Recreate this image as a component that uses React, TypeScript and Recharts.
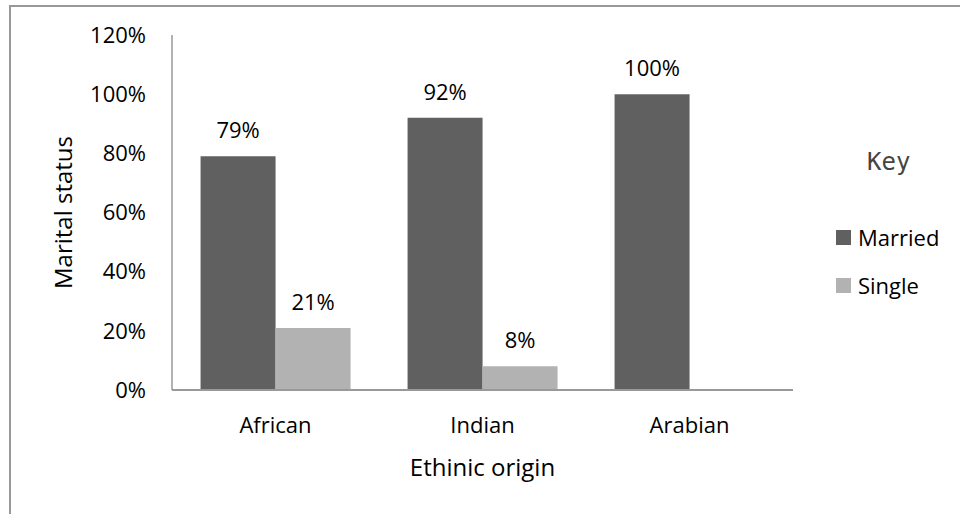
import React from "react";
import {
  BarChart,
  Bar,
  XAxis,
  YAxis,
  Legend,
  LabelList,
  Label,
} from "recharts";

const origins = ["African", "Indian", "Arabian"];
const married = [79, 92, 100];
const single = [21, 8, 0];
const yTicks = [0, 20, 40, 60, 80, 100, 120];

const data = origins.map((origin, i) => ({
  origin,
  Married: married[i],
  Single: single[i],
}));

const FONT = "'Open Sans', 'Noto Sans', sans-serif";
const pct = (v: any) => (v ? `${v}%` : "");

function KeyLegend(props: any) {
  const payload = props.payload || [];
  return (
    <div style={{ fontFamily: FONT }}>
      <div
        style={{
          marginLeft: 31,
          height: 30,
          lineHeight: "30px",
          fontFamily: "'DejaVu Sans Mono', monospace",
          fontSize: 24,
          color: "#444",
        }}
      >
        Key
      </div>
      <div style={{ marginTop: 45 }}>
        {payload.map((entry: any, i: number) => (
          <div
            key={entry.value}
            style={{
              display: "flex",
              alignItems: "center",
              height: 30,
              marginTop: i ? 18 : 0,
              fontSize: 22,
              color: "#000",
            }}
          >
            <span
              style={{
                width: 15,
                height: 15,
                background: entry.color,
                marginRight: 7,
                display: "inline-block",
              }}
            />
            {entry.value}
          </div>
        ))}
      </div>
    </div>
  );
}

export default function App() {
  return (
    <div
      style={{
        position: "absolute",
        left: 0,
        top: 0,
        width: 960,
        height: 514,
        overflow: "hidden",
        background: "#fff",
        fontFamily: FONT,
      }}
    >
      <div style={{ position: "absolute", left: 0, top: 0 }}>
        <BarChart
          width={960}
          height={514}
          data={data}
          margin={{ top: 35, right: 43, left: 0, bottom: 0 }}
          barCategoryGap="13.8%"
          barGap={0}
        >
          <XAxis
            dataKey="origin"
            height={124}
            axisLine={{ stroke: "#999", strokeWidth: 2 }}
            tickLine={false}
            tickSize={0}
            tickMargin={27}
            tick={{ fontSize: 22, fill: "#000", fontFamily: FONT }}
          >
            <Label
              value="Ethinic origin"
              position="insideBottom"
              offset={38}
              style={{ fontSize: 24, fill: "#000", fontFamily: FONT }}
            />
          </XAxis>
          <YAxis
            width={172}
            domain={[0, 120]}
            ticks={yTicks}
            interval={0}
            tickFormatter={(v: number) => `${v}%`}
            axisLine={{ stroke: "#999", strokeWidth: 1.5 }}
            tickLine={false}
            tickSize={0}
            tickMargin={26}
            tick={{ fontSize: 22, fill: "#000", fontFamily: FONT }}
          >
            <Label
              content={(p: any) => {
                const vb = p.viewBox || { x: 0, y: 35, height: 355 };
                const cx = vb.x + 62;
                const cy = vb.y + vb.height / 2;
                return (
                  <text
                    x={cx}
                    y={cy}
                    transform={`rotate(-90 ${cx} ${cy})`}
                    textAnchor="middle"
                    dominantBaseline="central"
                    style={{ fontSize: 24, fill: "#000", fontFamily: FONT }}
                  >
                    Marital status
                  </text>
                );
              }}
            />
          </YAxis>
          <Legend
            layout="vertical"
            align="right"
            verticalAlign="middle"
            content={<KeyLegend />}
            wrapperStyle={{ position: "absolute", left: 836, top: 147, width: 124 }}
          />
          <Bar dataKey="Married" fill="#606060" isAnimationActive={false}>
            <LabelList
              dataKey="Married"
              position="top"
              offset={18}
              formatter={pct}
              style={{ fontSize: 22, fill: "#000", fontFamily: FONT }}
            />
          </Bar>
          <Bar dataKey="Single" fill="#b2b2b2" isAnimationActive={false}>
            <LabelList
              dataKey="Single"
              position="top"
              offset={18}
              formatter={pct}
              style={{ fontSize: 22, fill: "#000", fontFamily: FONT }}
            />
          </Bar>
        </BarChart>
      </div>
      {/* frame: top and left edges only, the rest is cut off in the original */}
      <div
        style={{
          position: "absolute",
          left: 9,
          top: 5,
          width: 951,
          height: 2,
          background: "#999",
          pointerEvents: "none",
        }}
      />
      <div
        style={{
          position: "absolute",
          left: 9,
          top: 5,
          width: 2,
          height: 509,
          background: "#999",
          pointerEvents: "none",
        }}
      />
    </div>
  );
}
